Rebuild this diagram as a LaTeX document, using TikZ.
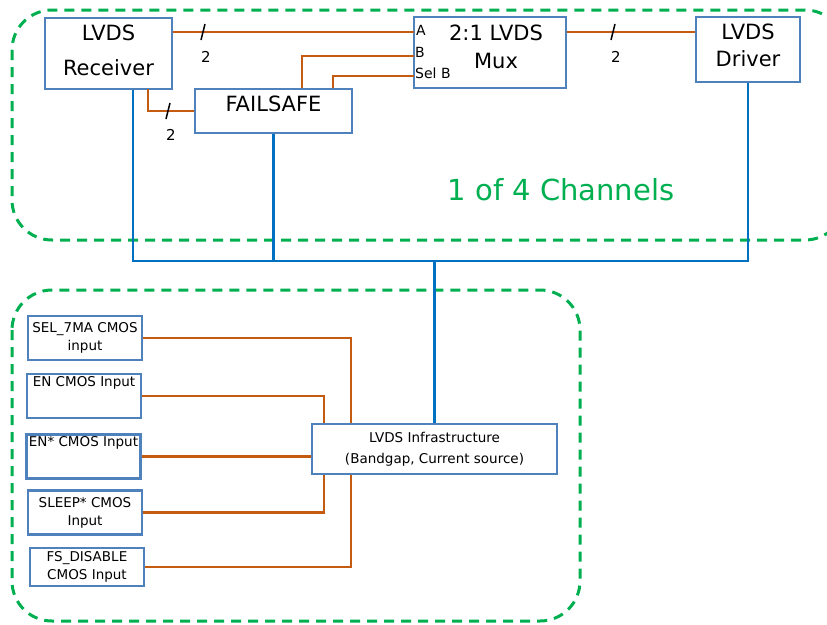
\documentclass[tikz,border=0pt]{standalone}
\usepackage{fontspec}
\setmainfont{DejaVu Sans}
\usepackage{tikz}
\usetikzlibrary{positioning, calc}
\definecolor{boxblue}{RGB}{79, 129, 189}
\definecolor{busblue}{RGB}{0, 112, 192}
\definecolor{sigorange}{RGB}{197, 90, 17}
\definecolor{grpgreen}{RGB}{0, 176, 80}

\tikzset{
    blk/.style={draw=boxblue, line width=2.4pt, fill=white, align=center, inner sep=2pt},
    inblk/.style={blk, font=\fontsize{13.5}{18}\selectfont, minimum width=114, minimum height=44},
    toptxt/.style={anchor=north, align=center, inner sep=3pt},
    sig/.style={sigorange, line width=2.6pt},
    bus/.style={busblue, line width=2.6pt},
    group/.style={grpgreen, line width=3pt, dash pattern=on 10pt off 7pt, rounded corners=40},
    pinlbl/.style={font=\fontsize{14}{15}\selectfont, inner sep=0pt, anchor=west},
    cnt/.style={font=\fontsize{15}{16}\selectfont, inner sep=0pt},
}
% bus width mark: slash through the wire plus its count
\newcommand{\buswidth}[2]{%
    \draw[black, line width=1.5pt] ($(#1)+(-2,8)$) -- ($(#1)+(2,-8)$);
    \node[cnt] at ($(#1)+(3,#2)$) {2};
}

\begin{document}
\begin{tikzpicture}[x=1pt, y=-1pt]
\useasboundingbox (0,0) rectangle (827,624);

% Channel group and infrastructure group
\draw[group] (12,10) rectangle (845,240);
\draw[group] (12,290) rectangle (580,621);
\node[text=grpgreen, font=\fontsize{29}{32}\selectfont] (chn) at (561,190) {1 of 4 Channels};

% Channel blocks
\node[blk, minimum width=127, minimum height=71,
      label={[toptxt, inner sep=5pt, yshift=-3pt, font=\fontsize{21}{35}\selectfont]north:LVDS\\Receiver}] (rx) at (108.5,53.5) {};
\node[blk, minimum width=157, minimum height=44,
      label={[toptxt, inner sep=6pt, yshift=-2pt, font=\fontsize{21}{24}\selectfont]north:FAILSAFE}] (fs) at (273.5,111) {};
\node[blk, minimum width=152, minimum height=71,
      label={[toptxt, inner sep=6pt, yshift=-3pt, font=\fontsize{21}{28}\selectfont, xshift=6pt]north:2:1 LVDS\\Mux}] (mux) at (490,52.5) {};
\node[blk, minimum width=104, minimum height=65,
      label={[toptxt, inner sep=6pt, yshift=-2pt, font=\fontsize{21}{27}\selectfont]north:LVDS\\Driver}] (drv) at (748,49.5) {};

% Mux pins
\coordinate (pinA) at (414,32);
\coordinate (pinB) at (414,56);
\coordinate (pinS) at (414,76);
\node[pinlbl] (lA) at (416,30) {A};
\node[pinlbl] (lB) at (415,52) {B};
\node[pinlbl] (lS) at (415,73) {Sel B};

% Channel signals
\draw[sig] (rx.east |- pinA) -- (pinA);
\buswidth{203,32}{25}
\draw[sig] (148,89) |- (fs.west);
\buswidth{168,111}{24}
\draw[sig] (fs.north -| 302,0) |- (pinB);
\draw[sig] (fs.north -| 333,0) |- (pinS);
\draw[sig] (mux.east |- pinA) -- (drv.west |- pinA);
\buswidth{613,32}{25}

% Infrastructure block and CMOS inputs
\node[blk, minimum width=245, minimum height=50, font=\fontsize{13.5}{21}\selectfont] (infra) at (434.5,449) {LVDS Infrastructure\\(Bandgap, Current source)};
\node[inblk] (sel) at (85,338) {SEL\_7MA CMOS\\input};
\node[inblk, label={[toptxt, font=\fontsize{13.5}{15}\selectfont]north:EN CMOS Input}] (en) at (84,396) {};
\node[inblk, label={[toptxt, font=\fontsize{13.5}{15}\selectfont]north:EN* CMOS Input}] (enn) at (83.5,456.5) {};
\node[inblk] (slp) at (85,512.5) {SLEEP* CMOS\\Input};
\node[inblk, minimum height=38] (fsd) at (87,567) {FS\_DISABLE\\CMOS Input};

% Power / bias bus
\coordinate (busL) at (133,261);
\coordinate (busR) at (748,261);
\draw[bus] (rx.south -| busL) -- (busL) -- (busR) -- (drv.south);
\draw[bus] (fs.south) -- (fs.south |- busL);
\draw[bus] (infra.north) -- (infra.north |- busL);

% CMOS input wiring
\draw[sig] (sel.east) -| (infra.north -| 351,0);
\draw[sig] (en.east) -| (infra.north -| 324,0);
\draw[sig] (enn.east) -- (infra.west |- enn.east);
\draw[sig] (slp.east) -| (infra.south -| 324,0);
\draw[sig] (fsd.east) -| (infra.south -| 351,0);

\end{tikzpicture}
\end{document}
